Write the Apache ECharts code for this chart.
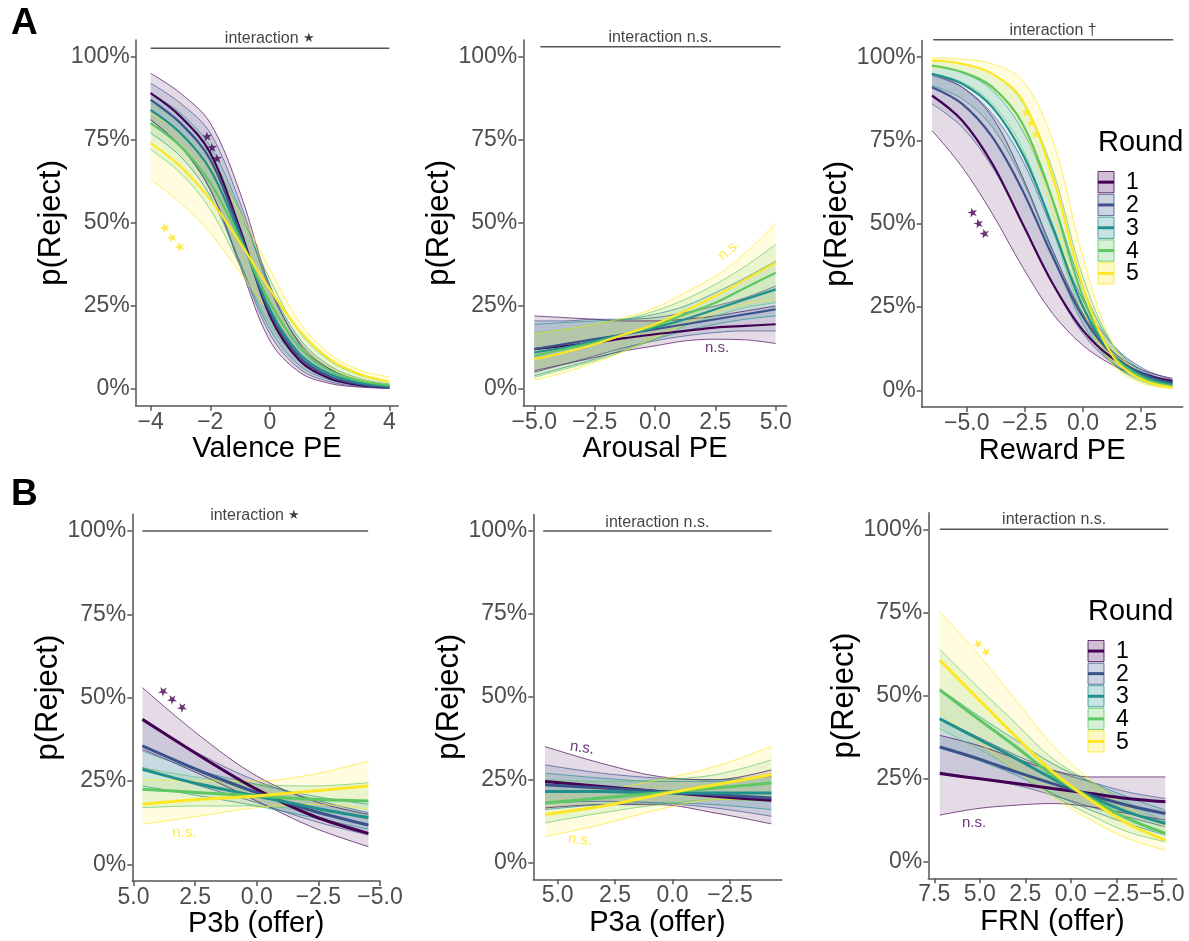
<!DOCTYPE html>
<html>
<head>
<meta charset="utf-8">
<script src="https://cdn.jsdelivr.net/npm/echarts@6/dist/echarts.min.js"></script>
<style>
  html, body { margin: 0; padding: 0; background: #fff; }
  #chart { width: 1189px; height: 941px; }
</style>
</head>
<body>
<div id="chart"></div>
<script>
// rounds
const roundNames = ['1', '2', '3', '4', '5'];
const roundColors = ['#440154', '#3B528B', '#21908C', '#5DC863', '#FDE725'];
const yTicks = [0, 25, 50, 75, 100];

// A1: Valence PE  (p(Reject) in %, one row per round)
const valenceX = [-4, -3, -2, -1, 0, 1, 2, 3, 4];
const valenceTicks = [-4, -2, 0, 2, 4];
const valenceFit = [
  [89, 82, 71, 48, 22, 8.5, 3.2, 1.2, 0.5],
  [87, 80, 69, 47, 23, 9.5, 3.8, 1.5, 0.6],
  [84, 77, 66, 46, 24, 10.5, 4.5, 1.9, 0.8],
  [80, 73, 62, 45, 26, 12.5, 5.5, 2.5, 1.1],
  [74, 67, 57, 44, 30, 17.5, 9, 4.5, 2.2]
];
const valenceLo = [
  [81, 73, 60, 37, 14.5, 5, 1.7, 0.6, 0.2],
  [81, 73, 60, 38, 16.5, 6, 2.2, 0.8, 0.3],
  [77, 70, 58, 38, 18, 7, 2.8, 1.1, 0.4],
  [72, 65, 54, 37, 19.5, 8.5, 3.5, 1.5, 0.6],
  [63, 56, 47, 35, 23, 13, 6.5, 3, 1.3]
];
const valenceHi = [
  [95, 89, 80, 59, 31, 13.5, 6, 2.5, 1.0],
  [92, 86, 77, 56, 30, 14, 6.2, 2.7, 1.2],
  [89, 83, 73, 54, 31, 15, 7, 3.2, 1.5],
  [86, 80, 70, 53, 33, 17, 8.5, 4.2, 2.1],
  [83, 77, 67, 53, 36, 20, 10.5, 5.7, 3.7]
];

// A2: Arousal PE
const arousalX = [-5, -3.75, -2.5, -1.25, 0, 1.25, 2.5, 3.75, 5];
const arousalTicks = [-5, -2.5, 0, 2.5, 5];
const arousalFit = [
  [12, 13, 14, 15.3, 16.5, 17.5, 18.5, 19, 19.5],
  [12, 13.5, 15, 16.5, 18, 19.5, 21, 22.5, 24],
  [11, 12.5, 14.5, 16.5, 18.5, 21, 24, 27, 30],
  [10, 12, 14, 16.5, 19, 22.5, 26, 30.5, 35],
  [9, 11, 13.5, 16.5, 19.5, 23.5, 28, 33, 38]
];
const arousalLo = [
  [5.5, 7.5, 9.5, 11.5, 13, 14.5, 15, 14.8, 13.7],
  [5, 7.5, 10, 12.5, 14.5, 16, 17, 17.5, 17.5],
  [4, 6.5, 9, 12, 15, 17.5, 19.5, 21, 22],
  [3.5, 6, 8.5, 11.5, 15, 19, 22, 24.5, 26],
  [2.7, 5, 8, 11.5, 15.5, 19.5, 23, 25.5, 27]
];
const arousalHi = [
  [22, 21.5, 21, 20.5, 20.5, 21, 22, 23.5, 25],
  [20.5, 20.5, 21, 21, 21.5, 23, 25, 27.5, 31],
  [19.5, 20, 20.5, 21, 22.5, 25, 29, 33.5, 38.5],
  [17, 18, 19.5, 21, 23.5, 27, 31.5, 37, 43.5],
  [16.5, 18, 19.5, 21.5, 24.5, 29, 34, 41, 50]
];

// A3: Reward PE
const rewardX = [-6.5, -5.2, -3.9, -2.6, -1.3, 0, 1.3, 2.6, 3.85];
const rewardTicks = [-5, -2.5, 0, 2.5];
const rewardFit = [
  [88.5, 81, 68, 50, 32, 18, 9.5, 5, 2.8],
  [91, 86, 76, 60, 40, 22, 10.5, 4.8, 2.2],
  [95, 92, 85, 71, 49, 25, 10.5, 4.2, 1.7],
  [97.5, 95.5, 91, 80, 57, 28, 10.5, 3.6, 1.3],
  [99, 98, 95, 87, 64, 31, 10, 3, 0.9]
];
const rewardLo = [
  [78, 67, 53, 37, 23, 13.5, 7.5, 3.8, 2.0],
  [86, 79, 67, 50, 32, 17, 8, 3.6, 1.5],
  [91.5, 87.5, 79, 63, 41, 20, 8, 3, 1.1],
  [95, 92.5, 86, 72.5, 48, 22.5, 8, 2.5, 0.8],
  [97, 95.5, 90.5, 79, 53, 24, 7.5, 2, 0.5]
];
const rewardHi = [
  [95, 91, 82, 64, 42, 23, 11.5, 6, 3.6],
  [94.5, 91, 83, 69, 48, 27, 13.5, 6.5, 3.2],
  [97.5, 95.5, 90, 78, 57, 30.5, 13.5, 5.8, 2.6],
  [99, 98, 95, 86.5, 66, 34, 13.5, 5.2, 2.1],
  [99.8, 99.4, 98, 93, 75, 40, 13.5, 4.5, 1.6]
];

// B1: P3b (offer), axis reversed
const p3bX = [4.64, 2.3, 0, -2.3, -4.53];
const p3bTicks = [5, 2.5, 0, -2.5, -5];
const p3bFit = [
  [43.5, 32.5, 22.5, 14.5, 9.3],
  [35.5, 28, 21.5, 16, 11.8],
  [28.5, 24, 20.5, 17, 14],
  [22.5, 21.5, 20.5, 19.5, 19],
  [18, 19.5, 20.5, 22, 23.5]
];
const p3bLo = [
  [34.5, 27, 19, 11, 5.3],
  [29, 23.5, 18.5, 13, 8.8],
  [23.5, 20.5, 17.5, 14, 10.5],
  [17, 17.5, 17.5, 16, 14.5],
  [12, 14.5, 17, 18, 16.5]
];
const p3bHi = [
  [53, 38.5, 26.5, 19, 15],
  [43, 33, 25, 19.5, 15.5],
  [34, 28, 24, 20.5, 18],
  [29, 26, 24, 23.5, 24.5],
  [25.5, 25, 25, 27, 31]
];

// B2: P3a (offer)
const p3aX = [5.55, 3.1, 0.6, -1.85, -4.3];
const p3aTicks = [5, 2.5, 0, -2.5];
const p3aFit = [
  [24.5, 23, 21.5, 20, 18.8],
  [23.5, 22.5, 21.5, 20.5, 19.5],
  [21.5, 21.5, 21, 21, 21],
  [18, 19.5, 21, 22.5, 24],
  [14.5, 17, 20.5, 23.5, 26.5]
];
const p3aLo = [
  [16.5, 17.5, 17.5, 15, 11.7],
  [18, 18.5, 18, 16.5, 14],
  [16, 17.5, 18, 17.5, 16],
  [12, 15, 17.5, 19, 18.5],
  [7.8, 11.5, 16, 19, 19]
];
const p3aHi = [
  [35, 30, 26, 25, 28],
  [29.5, 27, 25.5, 25, 26],
  [27, 25.5, 24.5, 24.5, 26.5],
  [25, 24.5, 25, 26.5, 31],
  [21.5, 22, 25, 29, 35]
];

// B3: FRN (offer)
const frnX = [7.2, 5.1, 3.0, 1.0, -1.1, -3.1, -5.2];
const frnTicks = [7.5, 5, 2.5, 0, -2.5, -5];
const frnFit = [
  [26.5, 25, 23.5, 22, 20.5, 19, 18],
  [34.5, 31, 27, 23.5, 20, 17, 14.5],
  [43, 37, 31, 25, 19.5, 15, 11.5],
  [51.7, 43, 34.5, 26, 19, 13, 8.5],
  [60.7, 49, 37.5, 27, 18.5, 11.5, 6.5]
];
const frnLo = [
  [14, 16, 17, 17.5, 16.5, 14.5, 12.5],
  [27, 25, 23, 20, 16.5, 13.5, 10.5],
  [34.5, 30.5, 26, 20.5, 15.5, 11.5, 8],
  [40, 34, 27.5, 20, 14, 9, 6],
  [45, 36, 27.5, 19.5, 12.5, 7, 3.5]
];
const frnHi = [
  [38, 35, 31, 27.5, 25.5, 25.5, 25.5],
  [43, 37.5, 32, 27.5, 24, 21, 19],
  [52, 44, 36.5, 29.5, 24, 19.5, 15.5],
  [63.9, 52.5, 41.5, 31, 24, 18, 12],
  [75.2, 62.5, 48.5, 35, 24.5, 16.5, 10.5]
];

// significance marks: [x, y, text, round, rotation]
const valenceMarks = [[-1.95, 72.5, '★★★', 0, -67], [-3.29, 45.4, '★★★', 4, -51]];
const arousalMarks = [[3.07, 41.8, 'n.s.', 4, 40], [2.57, 12.3, 'n.s.', 0, 0]];
const rewardMarks = [[-2.25, 80, '★★★', 4, -65], [-4.51, 50, '★★★', 0, -58]];
const p3bMarks = [[3.43, 49.3, '★★★', 0, -40], [2.94, 9.4, 'n.s.', 4, 0]];
const p3aMarks = [[3.94, 34.6, 'n.s.', 0, -8], [4.03, 6.9, 'n.s.', 4, -6]];
const frnMarks = [[4.88, 64, '★★', 4, -45], [5.32, 11.6, 'n.s.', 0, 0]];

const FONT = '"Liberation Sans", Arial, Helvetica, sans-serif';

const panels = [
  { x: valenceX, fit: valenceFit, lo: valenceLo, hi: valenceHi, ticks: valenceTicks, dec: 0,
    name: 'Valence PE', xMin: -4.5, xMax: 4.3, inverse: false,
    grid: { left: 135.7, top: 40, width: 262.6, height: 365.7 }, yGap: 68, xGap: 29,
    note: 'interaction {s|★}', noteSpan: [-4, 4], noteLineY: 102.5, noteTextY: 105.3, marks: valenceMarks },
  { x: arousalX, fit: arousalFit, lo: arousalLo, hi: arousalHi, ticks: arousalTicks, dec: 1,
    name: 'Arousal PE', xMin: -5.456, xMax: 5.456, inverse: false,
    grid: { left: 523.3, top: 40, width: 263.4, height: 365.7 }, yGap: 66, xGap: 29,
    note: 'interaction n.s.', noteSpan: [-4.75, 5.2], noteLineY: 103, noteTextY: 105.7, marks: arousalMarks },
  { x: rewardX, fit: rewardFit, lo: rewardLo, hi: rewardHi, ticks: rewardTicks, dec: 1,
    name: 'Reward PE', xMin: -6.94, xMax: 4.29, inverse: false,
    grid: { left: 921.7, top: 40.5, width: 261, height: 366.5 }, yGap: 65, xGap: 29,
    note: 'interaction †', noteSpan: [-6.45, 3.88], noteLineY: 105.2, noteTextY: 108, marks: rewardMarks },
  { x: p3bX, fit: p3bFit, lo: p3bLo, hi: p3bHi, ticks: p3bTicks, dec: 1,
    name: 'P3b (offer)', xMin: -5.0, xMax: 5.05, inverse: true,
    grid: { left: 132.3, top: 514.3, width: 247.7, height: 366.7 }, yGap: 64, xGap: 22,
    note: 'interaction {s|★}', noteSpan: [4.64, -4.52], noteLineY: 100, noteTextY: 104.5, marks: p3bMarks },
  { x: p3aX, fit: p3aFit, lo: p3aLo, hi: p3aHi, ticks: p3aTicks, dec: 1,
    name: 'P3a (offer)', xMin: -4.75, xMax: 6.06, inverse: true,
    grid: { left: 533.3, top: 514.4, width: 248.4, height: 364.9 }, yGap: 66, xGap: 22,
    note: 'interaction n.s.', noteSpan: [5.63, -4.31], noteLineY: 100, noteTextY: 102.4, marks: p3aMarks },
  { x: frnX, fit: frnFit, lo: frnLo, hi: frnHi, ticks: frnTicks, dec: 1,
    name: 'FRN (offer)', xMin: -5.82, xMax: 7.83, inverse: true,
    grid: { left: 928.3, top: 512.7, width: 248.4, height: 365.6 }, yGap: 67, xGap: 22,
    note: 'interaction n.s.', noteSpan: [7.19, -5.36], noteLineY: 100, noteTextY: 103, marks: frnMarks }
];

const fmt = (v, dec) => (v < 0 ? '\u2212' : '') + Math.abs(v).toFixed(dec);

function rgba(hex, a) {
  const n = parseInt(hex.slice(1), 16);
  return 'rgba(' + (n >> 16) + ',' + ((n >> 8) & 255) + ',' + (n & 255) + ',' + a + ')';
}

const axisGrey = '#555';
const SMOOTH = 0.35;

const series = [];
panels.forEach((p, i) => {
  // confidence ribbons: lower edge + stacked width
  for (let r = 0; r < 5; r++) {
    const c = roundColors[r];
    const edge = { color: rgba(c, 0.85), width: 0.8 };
    const stack = 'band' + i + '_' + r;
    series.push({
      type: 'line', xAxisIndex: i, yAxisIndex: i, stack: stack,
      data: p.x.map((xv, k) => [p.lo[r][k], xv]), encode: { x: 1, y: 0 },
      smooth: SMOOTH, symbol: 'none', lineStyle: edge, silent: true, z: 2
    });
    series.push({
      type: 'line', xAxisIndex: i, yAxisIndex: i, stack: stack,
      data: p.x.map((xv, k) => [p.hi[r][k] - p.lo[r][k], xv]), encode: { x: 1, y: 0 },
      smooth: SMOOTH, symbol: 'none', lineStyle: edge,
      areaStyle: { color: rgba(c, 0.2) }, silent: true, z: 2
    });
  }
  // fitted lines
  for (let r = 0; r < 5; r++) {
    series.push({
      type: 'line', xAxisIndex: i, yAxisIndex: i, name: roundNames[r],
      data: p.x.map((xv, k) => [xv, p.fit[r][k]]),
      smooth: SMOOTH, symbol: 'none',
      lineStyle: { color: roundColors[r], width: i < 3 ? 2.2 : 3 }, silent: true, z: 3
    });
  }
  // interaction bracket
  series.push({
    type: 'line', xAxisIndex: i, yAxisIndex: i, clip: false, silent: true,
    data: [[p.noteSpan[0], p.noteLineY], [p.noteSpan[1], p.noteLineY]],
    symbol: 'none', lineStyle: { color: axisGrey, width: 1.5 }, z: 4
  });
  series.push({
    type: 'scatter', xAxisIndex: i, yAxisIndex: i, clip: false, silent: true, symbolSize: 0,
    data: [[(p.noteSpan[0] + p.noteSpan[1]) / 2, p.noteTextY]],
    label: {
      show: true, position: 'inside', formatter: p.note, color: '#111', fontSize: 16, fontFamily: FONT,
      rich: { s: { fontSize: 13, color: '#111', padding: [0, 0, 2, 0] } }
    }, z: 5
  });
  // significance marks
  p.marks.forEach(m => {
    const star = m[2].indexOf('★') >= 0;
    series.push({
      type: 'scatter', xAxisIndex: i, yAxisIndex: i, clip: false, silent: true, symbolSize: 0,
      data: [[m[0], m[1]]],
      label: {
        show: true, position: 'inside', formatter: m[2], rotate: m[4],
        color: roundColors[m[3]], fontSize: star ? 13 : 15, fontFamily: FONT
      }, z: 6
    });
  });
});

// legends (Round) drawn beside panels A3 and B3
function legendGraphic(left, titleY, keyTop, step) {
  const els = [{
    type: 'text', x: left, y: titleY, silent: true,
    style: { text: 'Round', fontSize: 29, fontFamily: FONT, fill: '#000', textVerticalAlign: 'middle' }
  }];
  roundNames.forEach((n, k) => {
    const y0 = keyTop + k * step;
    els.push({
      type: 'rect', silent: true,
      shape: { x: left, y: y0, width: 16, height: step - 1.5 },
      style: { fill: rgba(roundColors[k], 0.25), stroke: rgba(roundColors[k], 0.8), lineWidth: 1 }
    });
    els.push({
      type: 'line', silent: true,
      shape: { x1: left, y1: y0 + (step - 1.5) / 2, x2: left + 16, y2: y0 + (step - 1.5) / 2 },
      style: { stroke: roundColors[k], lineWidth: 3 }
    });
    els.push({
      type: 'text', x: left + 28, y: y0 + step / 2, silent: true,
      style: { text: n, fontSize: 23, fontFamily: FONT, fill: '#000', textVerticalAlign: 'middle' }
    });
  });
  return els;
}

const graphics = [
  { type: 'text', x: 11, y: 5, silent: true,
    style: { text: 'A', fontSize: 37, fontWeight: 900, fontFamily: FONT, fill: '#000' } },
  { type: 'text', x: 11, y: 476, silent: true,
    style: { text: 'B', fontSize: 37, fontWeight: 900, fontFamily: FONT, fill: '#000' } }
].concat(legendGraphic(1098, 143, 171.5, 22.8), legendGraphic(1088, 612, 640.5, 22.6));

const option = {
  animation: false,
  backgroundColor: '#fff',
  textStyle: { fontFamily: FONT },
  grid: panels.map(p => Object.assign({ containLabel: false }, p.grid)),
  xAxis: panels.map((p, i) => ({
    type: 'value', gridIndex: i, min: p.xMin, max: p.xMax, inverse: p.inverse,
    name: p.name, nameLocation: 'middle', nameGap: p.xGap,
    nameTextStyle: { fontSize: 29, color: '#000', fontFamily: FONT },
    axisLine: { show: true, onZero: false, lineStyle: { color: axisGrey, width: 1.5 } },
    axisTick: { show: true, length: 5, customValues: p.ticks, lineStyle: { color: axisGrey, width: 1.5 } },
    axisLabel: { customValues: p.ticks, formatter: v => fmt(v, p.dec), color: '#4d4d4d',
      fontSize: 23, margin: 5, fontFamily: FONT },
    splitLine: { show: false }
  })),
  yAxis: panels.map((p, i) => ({
    type: 'value', gridIndex: i, min: -5, max: 105,
    name: 'p(Reject)', nameLocation: 'middle', nameGap: p.yGap,
    nameTextStyle: { fontSize: 31, color: '#000', fontFamily: FONT },
    axisLine: { show: true, onZero: false, lineStyle: { color: axisGrey, width: 1.5 } },
    axisTick: { show: true, length: 5, customValues: yTicks, lineStyle: { color: axisGrey, width: 1.5 } },
    axisLabel: { customValues: yTicks, formatter: v => v + '%', color: '#4d4d4d',
      fontSize: 23, margin: 6, fontFamily: FONT },
    splitLine: { show: false }
  })),
  series: series,
  graphic: graphics
};

const myChart = echarts.init(document.getElementById('chart'));
myChart.setOption(option);
window.addEventListener('resize', () => myChart.resize());
</script>
</body>
</html>
